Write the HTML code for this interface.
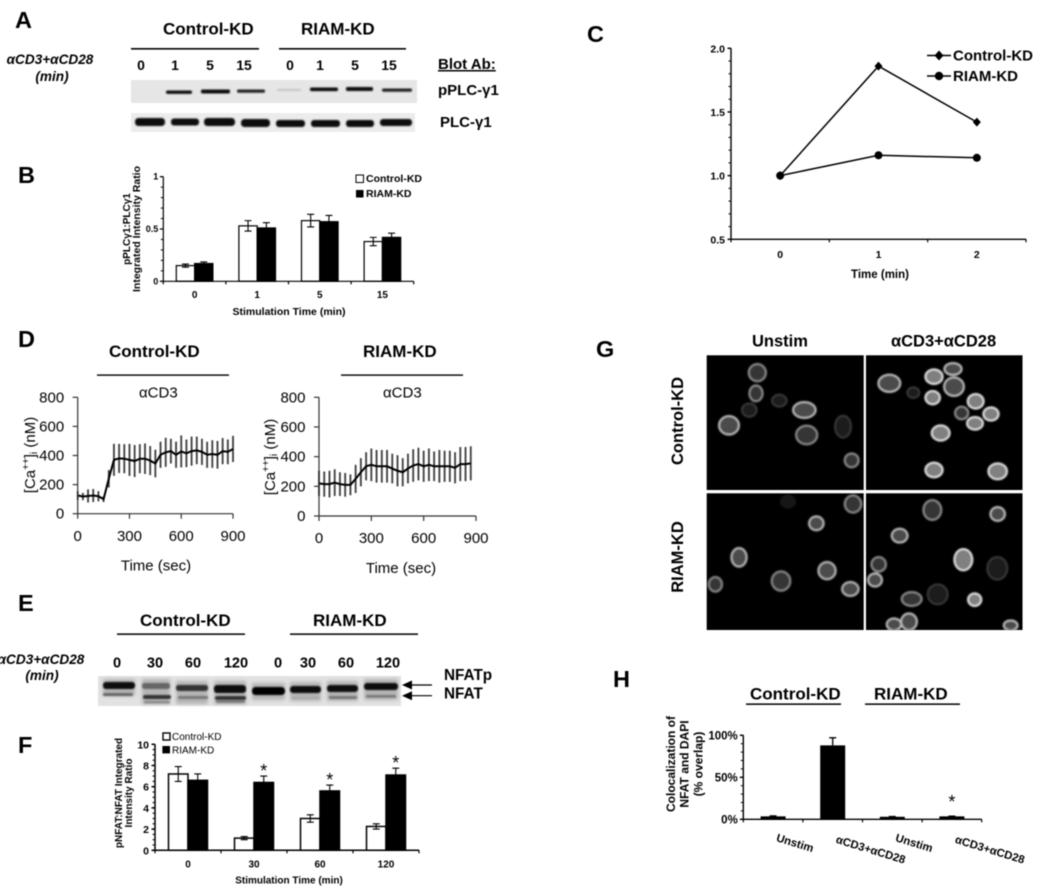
<!DOCTYPE html>
<html lang="en">
<head>
<meta charset="utf-8">
<title>Control-KD vs RIAM-KD figure</title>
<style>
html,body{margin:0;padding:0;background:#fff;width:1050px;height:896px;overflow:hidden}
svg{display:block;filter:blur(.45px)}
text{font-family:"Liberation Sans",sans-serif;fill:#000}
.b{font-weight:bold}
.bi{font-weight:bold;font-style:italic}
.m{text-anchor:middle}
.dim{fill:#1c1c1c;stroke:#383838}
.mid{fill:#363636;stroke:#8c8c8c}
.bri{fill:#4c4c4c;stroke:#bcbcbc}
.vbr{fill:#808080;stroke:#e4e4e4}
.cell{stroke-width:6}
</style>
</head>
<body>
<svg id="figure" xmlns="http://www.w3.org/2000/svg" width="1050" height="896" viewBox="0 0 1050 896">
<defs>
<filter id="soft" x="-20%" y="-80%" width="140%" height="260%"><feGaussianBlur stdDeviation=".8"/></filter>
<filter id="softer" x="-20%" y="-100%" width="140%" height="300%"><feGaussianBlur stdDeviation="1.8"/></filter>
<filter id="cellblur" x="-30%" y="-30%" width="160%" height="160%"><feGaussianBlur stdDeviation="2.4"/></filter>
<clipPath id="clip-tl"><rect x="140" y="76" width="471" height="404"/></clipPath>
<clipPath id="clip-tr"><rect x="618" y="76" width="469" height="404"/></clipPath>
<clipPath id="clip-bl"><rect x="140" y="490" width="471" height="410"/></clipPath>
<clipPath id="clip-br"><rect x="618" y="490" width="469" height="410"/></clipPath>
</defs>

<!-- Panel letters -->
<text class="b" x="15" y="28" font-size="23.5">A</text>
<text class="b" x="18" y="183" font-size="23.5">B</text>
<text class="b" x="587" y="42" font-size="23.5">C</text>
<text class="b" x="18" y="347" font-size="23.5">D</text>
<text class="b" x="18" y="611" font-size="23.5">E</text>
<text class="b" x="18" y="753" font-size="23.5">F</text>
<text class="b" x="596" y="357" font-size="23.5">G</text>
<text class="b" x="613" y="687" font-size="23.5">H</text>

<!-- Panel A -->
<g>
<text class="b" x="163" y="34.5" font-size="17">Control-KD</text>
<text class="b" x="301" y="34.5" font-size="17">RIAM-KD</text>
<rect x="131" y="48" width="128" height="1.6"/>
<rect x="279" y="48" width="127" height="1.6"/>
<text class="bi m" x="50" y="64" font-size="13.6">αCD3+αCD28</text>
<text class="bi m" x="52" y="81" font-size="13.6">(min)</text>
<g class="b m" font-size="14">
<text x="141" y="70">0</text>
<text x="175" y="70">1</text>
<text x="210" y="70">5</text>
<text x="244" y="70">15</text>
<text x="290" y="70">0</text>
<text x="320" y="70">1</text>
<text x="355" y="70">5</text>
<text x="389" y="70">15</text>
</g>
<text class="b" x="438" y="69" font-size="15" text-decoration="underline">Blot Ab:</text>
<text class="b" x="438" y="95" font-size="15">pPLC-γ1</text>
<text class="b" x="440" y="127" font-size="15">PLC-γ1</text>
<rect x="131" y="80" width="286" height="23" fill="#e6e6e6"/>
<g filter="url(#soft)">
<rect x="166" y="90.5" width="26" height="3.4" rx="1.5" fill="#111"/>
<rect x="201" y="89.5" width="29" height="4" rx="1.5" fill="#111"/>
<rect x="237" y="89.5" width="28" height="3.2" rx="1.5" fill="#222"/>
<rect x="277" y="89" width="24" height="2" rx="1" fill="#c4c4c4"/>
<rect x="310" y="87.5" width="28" height="3.6" rx="1.5" fill="#111"/>
<rect x="346" y="87" width="27" height="4" rx="1.5" fill="#111"/>
<rect x="382" y="88.5" width="30" height="3.2" rx="1.5" fill="#222"/>
</g>
<rect x="131" y="113" width="284" height="19" fill="#ececec"/>
<g filter="url(#soft)" fill="#0c0c0c">
<rect x="135" y="118" width="30" height="8" rx="3.5"/>
<rect x="171" y="118.5" width="28" height="7" rx="3"/>
<rect x="204" y="118" width="31" height="8" rx="3.5"/>
<rect x="241" y="119" width="29" height="8" rx="3.5"/>
<rect x="276" y="120" width="29" height="7" rx="3"/>
<rect x="311" y="120" width="29" height="7" rx="3"/>
<rect x="346" y="120" width="28" height="7" rx="3"/>
<rect x="380" y="119" width="32" height="7" rx="3"/>
</g>
</g>

<!-- Panel B static titles -->
<g>
<text class="b m" font-size="10" transform="translate(130 229) rotate(-90)">pPLCγ1:PLCγ1</text>
<text class="b m" font-size="10.5" transform="translate(140 229) rotate(-90)">Integrated Intensity Ratio</text>
<text class="b m" x="289" y="315" font-size="10.5">Stimulation Time (min)</text>
<rect x="356" y="175" width="7.5" height="7.5" fill="#fff" stroke="#000" stroke-width="1"/>
<text class="b" x="366" y="182" font-size="10.5">Control-KD</text>
<rect x="356" y="190" width="7.5" height="7.5"/>
<text class="b" x="366" y="197" font-size="10.5">RIAM-KD</text>
</g>

<!-- Panel C static titles -->
<g>
<text class="b m" x="880" y="278" font-size="11.5">Time (min)</text>
<line x1="927" y1="55.5" x2="951" y2="55.5" stroke="#000" stroke-width="1.5"/>
<polygon points="939,50.5 943.5,55.5 939,60.5 934.5,55.5"/>
<text class="b" x="953" y="60.7" font-size="15">Control-KD</text>
<line x1="927" y1="76" x2="951" y2="76" stroke="#000" stroke-width="1.5"/>
<circle cx="939" cy="76" r="4.2"/>
<text class="b" x="953" y="81" font-size="15">RIAM-KD</text>
</g>

<!-- Panel D static titles -->
<g>
<text class="b" x="109" y="357" font-size="17">Control-KD</text>
<text class="b" x="363" y="357" font-size="17">RIAM-KD</text>
<rect x="97" y="374.4" width="132" height="1.4"/>
<rect x="341" y="374.4" width="122" height="1.4"/>
<text x="139" y="397.5" font-size="15">αCD3</text>
<text x="383" y="397.5" font-size="15">αCD3</text>
<text class="m" font-size="15" transform="translate(35 455) rotate(-90)">[Ca<tspan font-size="10" dy="-6">++</tspan><tspan dy="6">]</tspan><tspan font-size="10" dy="2">i</tspan><tspan dy="-2"> (nM)</tspan></text>
<text class="m" font-size="15" transform="translate(275 457) rotate(-90)">[Ca<tspan font-size="10" dy="-6">++</tspan><tspan dy="6">]</tspan><tspan font-size="10" dy="2">i</tspan><tspan dy="-2"> (nM)</tspan></text>
<text class="m" x="156" y="570.7" font-size="15">Time (sec)</text>
<text class="m" x="401" y="573" font-size="15">Time (sec)</text>
</g>

<!-- Panel E -->
<g>
<text class="b" x="140" y="626" font-size="17">Control-KD</text>
<text class="b" x="313" y="626" font-size="17">RIAM-KD</text>
<rect x="117" y="633.4" width="128" height="1.5"/>
<rect x="290" y="633.4" width="128" height="1.5"/>
<text class="bi m" x="41" y="664" font-size="13.6">αCD3+αCD28</text>
<text class="bi m" x="42" y="680" font-size="13.6">(min)</text>
<g class="b m" font-size="14.6">
<text x="117" y="667.3">0</text>
<text x="155" y="667.3">30</text>
<text x="193" y="667.3">60</text>
<text x="236" y="667.3">120</text>
<text x="278" y="667.3">0</text>
<text x="308" y="667.3">30</text>
<text x="346" y="667.3">60</text>
<text x="388" y="667.3">120</text>
</g>
<rect x="98" y="676" width="303" height="30" fill="#e2e2e2"/>
<g filter="url(#softer)" fill="#b4b4b4">
<rect x="103" y="679" width="32" height="17"/>
<rect x="142" y="679" width="28" height="25"/>
<rect x="176" y="681" width="32" height="23"/>
<rect x="214" y="681" width="32" height="23"/>
<rect x="252" y="683" width="33" height="17"/>
<rect x="290" y="682" width="31" height="19"/>
<rect x="327" y="681" width="31" height="20"/>
<rect x="364" y="679" width="34" height="21"/>
</g>
<g filter="url(#soft)">
<rect x="103" y="682" width="32" height="7" rx="3" fill="#0a0a0a"/>
<rect x="142" y="683" width="28" height="6" rx="2.5" fill="#666"/>
<rect x="176" y="685" width="32" height="6" rx="2.5" fill="#333"/>
<rect x="214" y="685" width="32" height="8" rx="3" fill="#111"/>
<rect x="252" y="687" width="33" height="8" rx="3.5" fill="#050505"/>
<rect x="290" y="686" width="31" height="7" rx="3" fill="#111"/>
<rect x="327" y="685" width="31" height="7" rx="3" fill="#111"/>
<rect x="364" y="683" width="34" height="7" rx="3" fill="#0a0a0a"/>
</g>
<g filter="url(#soft)">
<rect x="103" y="693" width="30" height="3" rx="1.5" fill="#666"/>
<rect x="143" y="695" width="28" height="4" rx="2" fill="#333"/>
<rect x="178" y="696" width="30" height="3" rx="1.5" fill="#777"/>
<rect x="215" y="696" width="31" height="4" rx="2" fill="#333"/>
<rect x="292" y="697" width="28" height="2" rx="1" fill="#aaa"/>
<rect x="329" y="696" width="28" height="3" rx="1" fill="#777"/>
<rect x="366" y="695" width="30" height="2.6" rx="1" fill="#777"/>
<rect x="144" y="701" width="26" height="2.4" rx="1" fill="#888"/>
<rect x="216" y="700.5" width="29" height="2.4" rx="1" fill="#777"/>
</g>
<text class="b" x="444" y="680" font-size="15.3">NFATp</text>
<text class="b" x="444" y="698.7" font-size="15.3">NFAT</text>
<line x1="409" y1="685" x2="432" y2="685" stroke="#000" stroke-width="1.2"/>
<polygon points="402,685 412,680.5 412,689.5"/>
<line x1="409" y1="695.7" x2="432" y2="695.7" stroke="#000" stroke-width="1.2"/>
<polygon points="402,695.7 412,691.2 412,700.2"/>
</g>

<!-- Panel F static titles -->
<g>
<text class="b m" font-size="10" transform="translate(122 793) rotate(-90)">pNFAT:NFAT Integrated</text>
<text class="b m" font-size="10" transform="translate(132 793) rotate(-90)">Intensity Ratio</text>
<text class="b m" x="289" y="883.7" font-size="10">Stimulation Time (min)</text>
<rect x="163" y="733" width="7" height="7" fill="#fff" stroke="#000" stroke-width="1.4"/>
<text x="172" y="740" font-size="10">Control-KD</text>
<rect x="162.4" y="746" width="7.6" height="7.4"/>
<text x="172" y="753.3" font-size="10">RIAM-KD</text>
</g>

<!-- Panel G micrographs -->
<g>
<text class="b" x="752" y="346.7" font-size="16.5">Unstim</text>
<text class="b" x="891" y="346.7" font-size="16.5">αCD3+αCD28</text>
<text class="b m" font-size="16.5" transform="translate(683 421) rotate(-90)">Control-KD</text>
<text class="b m" font-size="16.5" transform="translate(683 557) rotate(-90)">RIAM-KD</text>
<rect x="706.7" y="355.3" width="157" height="134.7"/>
<rect x="866" y="355.3" width="156.5" height="134.7"/>
<rect x="706.7" y="493.3" width="157" height="136.7"/>
<rect x="866" y="493.3" width="156.5" height="136.7"/>
<g transform="translate(660 330) scale(.33333)" filter="url(#cellblur)">
<g clip-path="url(#clip-tl)">
<ellipse class="cell mid" cx="292" cy="128" rx="26" ry="26"/>
<ellipse class="cell mid" cx="288" cy="190" rx="20" ry="24"/>
<ellipse class="cell dim" cx="358" cy="212" rx="22" ry="18"/>
<ellipse class="cell dim" cx="268" cy="240" rx="22" ry="20"/>
<ellipse class="cell bri" cx="433" cy="240" rx="34" ry="24"/>
<ellipse class="cell bri" cx="207" cy="286" rx="30" ry="28"/>
<ellipse class="cell mid" cx="440" cy="315" rx="32" ry="28"/>
<ellipse class="cell dim" cx="549" cy="290" rx="24" ry="33"/>
<ellipse class="cell mid" cx="575" cy="391" rx="21" ry="21"/>
</g>
<g clip-path="url(#clip-tr)">
<ellipse class="cell bri" cx="688" cy="160" rx="33" ry="26"/>
<ellipse class="cell dim" cx="760" cy="188" rx="18" ry="16"/>
<ellipse class="cell vbr" cx="822" cy="140" rx="26" ry="22"/>
<ellipse class="cell bri" cx="879" cy="117" rx="26" ry="18"/>
<ellipse class="cell bri" cx="882" cy="170" rx="30" ry="28"/>
<ellipse class="cell vbr" cx="818" cy="203" rx="22" ry="20"/>
<ellipse class="cell vbr" cx="947" cy="214" rx="24" ry="22"/>
<ellipse class="cell mid" cx="905" cy="249" rx="20" ry="19"/>
<ellipse class="cell vbr" cx="993" cy="252" rx="23" ry="20"/>
<ellipse class="cell vbr" cx="945" cy="280" rx="24" ry="19"/>
<ellipse class="cell vbr" cx="842" cy="309" rx="27" ry="23"/>
<ellipse class="cell vbr" cx="822" cy="420" rx="26" ry="22"/>
<ellipse class="cell vbr" cx="1013" cy="424" rx="28" ry="24"/>
</g>
<g clip-path="url(#clip-bl)">
<ellipse cx="384" cy="515" rx="24" ry="21" fill="#161616"/>
<ellipse class="cell mid" cx="579" cy="522" rx="25" ry="26"/>
<ellipse class="cell bri" cx="469" cy="580" rx="22" ry="21"/>
<ellipse class="cell bri" cx="237" cy="682" rx="23" ry="28"/>
<ellipse class="cell bri" cx="501" cy="722" rx="26" ry="26"/>
<ellipse class="cell mid" cx="363" cy="753" rx="28" ry="29"/>
<ellipse class="cell mid" cx="166" cy="763" rx="20" ry="22"/>
<ellipse class="cell bri" cx="571" cy="777" rx="25" ry="21"/>
</g>
<g clip-path="url(#clip-br)">
<ellipse class="cell mid" cx="817" cy="540" rx="27" ry="30"/>
<ellipse class="cell bri" cx="1013" cy="552" rx="22" ry="21"/>
<ellipse class="cell bri" cx="719" cy="617" rx="24" ry="21"/>
<ellipse class="cell mid" cx="656" cy="703" rx="22" ry="22"/>
<ellipse class="cell vbr" cx="910" cy="689" rx="27" ry="32"/>
<ellipse class="cell dim" cx="1012" cy="715" rx="30" ry="34"/>
<ellipse class="cell bri" cx="645" cy="750" rx="21" ry="20"/>
<ellipse class="cell mid" cx="755" cy="807" rx="30" ry="21"/>
<ellipse class="cell dim" cx="833" cy="793" rx="30" ry="30"/>
<ellipse class="cell vbr" cx="944" cy="809" rx="20" ry="19"/>
<ellipse class="cell bri" cx="702" cy="883" rx="22" ry="18"/>
<ellipse class="cell bri" cx="747" cy="875" rx="24" ry="25"/>
<ellipse class="cell bri" cx="1052" cy="886" rx="21" ry="15"/>
</g>
</g>
</g>

<!-- Panel H static titles -->
<g>
<text class="b" x="750" y="699.3" font-size="17">Control-KD</text>
<text class="b" x="874" y="699.3" font-size="17">RIAM-KD</text>
<rect x="746" y="703.4" width="95" height="1.5"/>
<rect x="865" y="703.4" width="95" height="1.5"/>
<text class="b m" font-size="12" transform="translate(675 764) rotate(-90)">Colocalization of</text>
<text class="b m" font-size="12" transform="translate(688.7 764) rotate(-90)">NFAT and DAPI</text>
<text class="b m" font-size="12" transform="translate(702.7 764) rotate(-90)">(% overlap)</text>
</g>

<g id="charts"></g>
</svg>

<script>
// Panel B
const bCategories = ['0', '1', '5', '15'];
const bControl = [0.15, 0.53, 0.58, 0.38];
const bRiam = [0.17, 0.51, 0.57, 0.42];
const bControlErr = [0.015, 0.05, 0.06, 0.04];
const bRiamErr = [0.015, 0.05, 0.06, 0.04];
const bYTicks = ['0', '0.5', '1'];

// Panel C
const cCategories = ['0', '1', '2'];
const cControl = [1.0, 1.86, 1.42];
const cRiam = [1.0, 1.16, 1.14];
const cYTicks = ['0.5', '1.0', '1.5', '2.0'];

// Panel D
const dXTicks = [0, 300, 600, 900];
const dYTicks = [0, 200, 400, 600, 800];
const dTimesControl = [0,30,60,90,120,150,180,210,240,270,300,330,360,390,420,450,480,510,540,570,600,630,660,690,720,750,780,810,840,870,900];
const dMeansControl = [125,118,122,125,120,100,240,370,380,378,370,362,378,378,365,345,405,422,430,405,428,415,430,435,425,405,410,405,430,425,445];
const dErrControl = [30,25,45,45,35,20,60,110,100,100,110,110,100,105,100,95,90,100,85,90,110,95,100,95,90,90,95,95,90,85,90];
const dTimesRiam = [0,30,60,90,120,150,180,210,240,270,300,330,360,390,420,450,480,510,540,570,600,630,660,690,720,750,780,810,840,870];
const dMeansRiam = [220,215,215,225,215,210,210,250,295,335,345,335,335,335,320,305,295,320,340,350,335,345,335,335,335,335,325,350,350,355];
const dErrRiam = [85,85,90,90,80,80,70,95,95,95,110,110,110,110,100,105,95,100,110,110,105,110,100,110,105,105,105,115,115,115];

// Panel F
const fCategories = ['0', '30', '60', '120'];
const fControl = [7.2, 1.15, 3.0, 2.25];
const fRiam = [6.6, 6.4, 5.6, 7.1];
const fControlErr = [0.7, 0.15, 0.35, 0.25];
const fRiamErr = [0.6, 0.6, 0.55, 0.65];
const fSignificant = [false, true, true, true];
const fYTicks = ['0', '2', '4', '6', '8', '10'];

// Panel H
const hCategories = ['Unstim', 'αCD3+αCD28', 'Unstim', 'αCD3+αCD28'];
const hValues = [3.5, 88, 3, 3.5];
const hErr = [0.5, 9, 0.3, 0.3];
const hSignificant = [false, false, false, true];
const hYTicks = ['0%', '50%', '100%'];

const NS = 'http://www.w3.org/2000/svg';
const root = document.getElementById('charts');

function node(parent, tag, attrs, content) {
  const e = document.createElementNS(NS, tag);
  for (const k in attrs) e.setAttribute(k, attrs[k]);
  if (content !== undefined) e.textContent = content;
  parent.appendChild(e);
  return e;
}

function linearScale(d0, d1, r0, r1) {
  return v => r0 + (v - d0) / (d1 - d0) * (r1 - r0);
}

// Draws L-shaped axes with value ticks and band ticks.
function drawAxes(g, ax) {
  const spine = node(g, 'path', {d: 'M' + ax.x0 + ' ' + ax.yTop + 'V' + ax.y0 + 'H' + ax.x1, fill: 'none', stroke: ax.color || '#000', 'stroke-width': ax.lw});
  
  
  ax.minor.forEach(v => {
    const yy = ax.y(v);
    const m = node(g, 'line', {x1: ax.x0 - ax.minorLen, x2: ax.x0, y1: yy, y2: yy, stroke: ax.color || '#000', 'stroke-width': 1});
    
    
  });
  ax.yLabels.forEach(lab => {
    const yy = ax.y(parseFloat(lab));
    const t = node(g, 'line', {x1: ax.x0 - ax.majorLen, x2: ax.x0, y1: yy, y2: yy, stroke: ax.color || '#000', 'stroke-width': ax.lw});
    
    
    const l = node(g, 'text', {x: ax.x0 - ax.labelGap, y: yy + ax.labelDy, 'text-anchor': 'end', 'font-size': ax.yFont, 'font-weight': ax.bold ? 'bold' : 'normal'}, lab);
    
    
  });
  ax.xTicks.forEach(px => {
    const t = node(g, 'line', {x1: px, x2: px, y1: ax.y0, y2: ax.y0 + ax.xTickLen, stroke: ax.color || '#000', 'stroke-width': 1.2});
    
    
  });
}

function bandTicks(x0, band, n) {
  const out = [];
  for (let i = 0; i <= n; i++) out.push(x0 + band * i);
  return out;
}

function minorValues(max, step) {
  const out = [];
  for (let i = 0; i * step <= max + 1e-9; i++) out.push(i * step);
  return out;
}

function drawErr(g, cx, yv, yt, yb, cap, lw) {
  const p = node(g, 'path', {d: 'M' + cx + ' ' + yt + 'V' + yb + 'M' + (cx - cap) + ' ' + yt + 'H' + (cx + cap) + (yb !== yv ? 'M' + (cx - cap) + ' ' + yb + 'H' + (cx + cap) : ''), fill: 'none', stroke: '#000', 'stroke-width': lw});
  
  
}

function drawGroupedBars(cfg) {
  const g = node(root, 'g', {});
  
  
  const y = linearScale(0, cfg.max, cfg.y0, cfg.yTop);
  const band = (cfg.x1 - cfg.x0) / cfg.cats.length;
  cfg.cats.forEach((c, i) => {
    const cx = cfg.x0 + band * (i + .5);
    const r1 = node(g, 'rect', {x: cx - cfg.bw, y: y(cfg.a[i]), width: cfg.bw, height: cfg.y0 - y(cfg.a[i]), fill: '#fff', stroke: '#000', 'stroke-width': cfg.stroke});
    
    
    const r2 = node(g, 'rect', {x: cx, y: y(cfg.b[i]), width: cfg.bw, height: cfg.y0 - y(cfg.b[i]), fill: '#000', stroke: '#000', 'stroke-width': cfg.stroke});
    
    
    drawErr(g, cx - cfg.bw / 2, y(cfg.a[i]), y(cfg.a[i] + cfg.ae[i]), y(cfg.a[i] - cfg.ae[i]), cfg.cap, 1.1);
    drawErr(g, cx + cfg.bw / 2, y(cfg.b[i]), y(cfg.b[i] + cfg.be[i]), cfg.riamLower ? y(cfg.b[i] - cfg.be[i]) : y(cfg.b[i]), cfg.cap, 1.1);
    const l = node(g, 'text', {x: cx, y: cfg.xLabelY, 'text-anchor': 'middle', 'font-size': cfg.xFont, 'font-weight': 'bold'}, c);
    
    
    if (cfg.sig && cfg.sig[i]) {
      const s = node(g, 'text', {x: cx + cfg.bw / 2, y: y(cfg.b[i] + cfg.be[i]) + 1, 'text-anchor': 'middle', 'font-size': 18}, '*');
      
      
    }
  });
  drawAxes(g, {x0: cfg.x0, x1: cfg.x1, y0: cfg.y0, yTop: cfg.yTop, y: y, lw: cfg.axisLw, minor: minorValues(cfg.max, cfg.minorStep), minorLen: 2.5, majorLen: 3.5, labelGap: cfg.labelGap, labelDy: cfg.labelDy, yLabels: cfg.yLabels, yFont: cfg.yFont, bold: true, xTicks: bandTicks(cfg.x0, band, cfg.cats.length), xTickLen: 3});
}

drawGroupedBars({name: 'panel-b-bar-chart', cats: bCategories, a: bControl, b: bRiam, ae: bControlErr, be: bRiamErr, max: 1, x0: 163.3, x1: 413.7, y0: 281.3, yTop: 176.7, bw: 18.3, stroke: 1.2, axisLw: 1.2, cap: 3.5, minorStep: 0.1, yLabels: bYTicks, yFont: 9, labelGap: 5, labelDy: 3, xLabelY: 298, xFont: 10, riamLower: true});

drawGroupedBars({name: 'panel-f-bar-chart', cats: fCategories, a: fControl, b: fRiam, ae: fControlErr, be: fRiamErr, max: 10, x0: 155, x1: 419, y0: 850.3, yTop: 744.3, bw: 19.5, stroke: 1.5, axisLw: 1.5, cap: 3.5, minorStep: 0.5, yLabels: fYTicks, yFont: 10.5, labelGap: 6, labelDy: 4, xLabelY: 867.7, xFont: 10, riamLower: false, sig: fSignificant});

// Panel C line chart
(function () {
  const g = node(root, 'g', {});
  
  
  const x0 = 731, x1 = 1026, y0 = 239.3, yTop = 48.3;
  const y = linearScale(0.5, 2, y0, yTop);
  const band = (x1 - x0) / cCategories.length;
  const x = i => x0 + band * (i + .5);
  const minors = [];
  for (let i = 0; i <= 15; i++) minors.push(0.5 + i * 0.1);
  drawAxes(g, {x0: x0, x1: x1, y0: y0, yTop: yTop, y: y, lw: 1.4, minor: minors, minorLen: 2.5, majorLen: 3.5, labelGap: 6, labelDy: 4, yLabels: cYTicks, yFont: 10.5, bold: true, xTicks: bandTicks(x0, band, cCategories.length), xTickLen: 3});
  cCategories.forEach((c, i) => {
    const l = node(g, 'text', {x: x(i), y: 258, 'text-anchor': 'middle', 'font-size': 10.5, 'font-weight': 'bold'}, c);
    
    
  });
  const lineA = node(g, 'polyline', {points: cControl.map((v, i) => x(i) + ',' + y(v)).join(' '), fill: 'none', stroke: '#000', 'stroke-width': 1.5});
  
  
  const lineB = node(g, 'polyline', {points: cRiam.map((v, i) => x(i) + ',' + y(v)).join(' '), fill: 'none', stroke: '#000', 'stroke-width': 1.5});
  
  
  cControl.forEach((v, i) => {
    const px = x(i), py = y(v);
    const d = node(g, 'polygon', {points: px + ',' + (py - 4.5) + ' ' + (px + 4) + ',' + py + ' ' + px + ',' + (py + 4.5) + ' ' + (px - 4) + ',' + py});
    
    
  });
  cRiam.forEach((v, i) => {
    const c = node(g, 'circle', {cx: x(i), cy: y(v), r: 4});
    
    
  });
})();

// Panel D time courses
function drawCalcium(cfg) {
  const g = node(root, 'g', {});
  
  
  const x = linearScale(0, 900, cfg.x0, cfg.x1);
  const y = linearScale(0, 800, cfg.y0, cfg.yTop);
  cfg.times.forEach((t, i) => {
    const e = node(g, 'line', {x1: x(t), x2: x(t), y1: y(cfg.means[i] + cfg.errs[i]), y2: y(cfg.means[i] - cfg.errs[i]), stroke: '#444', 'stroke-width': 1.9});
    
    
  });
  const line = node(g, 'polyline', {points: cfg.times.map((t, i) => x(t) + ',' + y(cfg.means[i])).join(' '), fill: 'none', stroke: '#000', 'stroke-width': 2});
  
  
  const axis = node(g, 'path', {d: 'M' + cfg.x0 + ' ' + cfg.yTop + 'V' + cfg.y0 + 'H' + cfg.x1, fill: 'none', stroke: '#333', 'stroke-width': 1.2});
  
  
  dYTicks.forEach(v => {
    const tick = node(g, 'line', {x1: cfg.x0 - 5, x2: cfg.x0, y1: y(v), y2: y(v), stroke: '#333', 'stroke-width': 1.2});
    
    
    const label = node(g, 'text', {x: cfg.x0 - 13.5, y: y(v) + 5, 'text-anchor': 'end', 'font-size': 15}, String(v));
    
    
  });
  dXTicks.forEach(v => {
    const tick = node(g, 'line', {x1: x(v), x2: x(v), y1: cfg.y0, y2: cfg.y0 + 5, stroke: '#333', 'stroke-width': 1.2});
    
    
    const label = node(g, 'text', {x: x(v), y: cfg.xLabelY, 'text-anchor': 'middle', 'font-size': 15}, String(v));
    
    
  });
}
drawCalcium({name: 'panel-d-control-chart', times: dTimesControl, means: dMeansControl, errs: dErrControl, x0: 77.7, x1: 233, y0: 513.7, yTop: 397.3, xLabelY: 541});
drawCalcium({name: 'panel-d-riam-chart', times: dTimesRiam, means: dMeansRiam, errs: dErrRiam, x0: 319, x1: 476, y0: 516, yTop: 397.3, xLabelY: 543});

// Panel H bar chart
(function () {
  const g = node(root, 'g', {});
  
  
  const x0 = 743.3, x1 = 981.7, y0 = 819.3, yTop = 735.3;
  const y = linearScale(0, 100, y0, yTop);
  const band = (x1 - x0) / hCategories.length;
  hCategories.forEach((c, i) => {
    const cx = x0 + band * (i + .5);
    const r = node(g, 'rect', {x: cx - 12.5, y: y(hValues[i]), width: 25, height: y0 - y(hValues[i]), fill: '#000'});
    
    
    drawErr(g, cx, y(hValues[i]), y(hValues[i] + hErr[i]), y(hValues[i]), 3.5, 1.3);
    const lx = cx + 2.5;
    const ly = i % 2 ? 842.7 : 841;
    const t = node(g, 'text', {x: lx, y: ly, 'font-size': 11.3, 'font-weight': 'bold', transform: 'rotate(17 ' + lx + ' ' + ly + ')'}, c);
    
    
    if (hSignificant[i]) {
      const s = node(g, 'text', {x: cx, y: y(hValues[i] + hErr[i]) - 8, 'text-anchor': 'middle', 'font-size': 18}, '*');
      
      
    }
  });
  drawAxes(g, {x0: x0, x1: x1, y0: y0, yTop: yTop, y: y, lw: 1.4, minor: minorValues(100, 10), minorLen: 2.5, majorLen: 3.5, labelGap: 5.5, labelDy: 4, yLabels: hYTicks, yFont: 11.5, bold: true, xTicks: bandTicks(x0, band, hCategories.length), xTickLen: 3});
})();
</script>
</body>
</html>
